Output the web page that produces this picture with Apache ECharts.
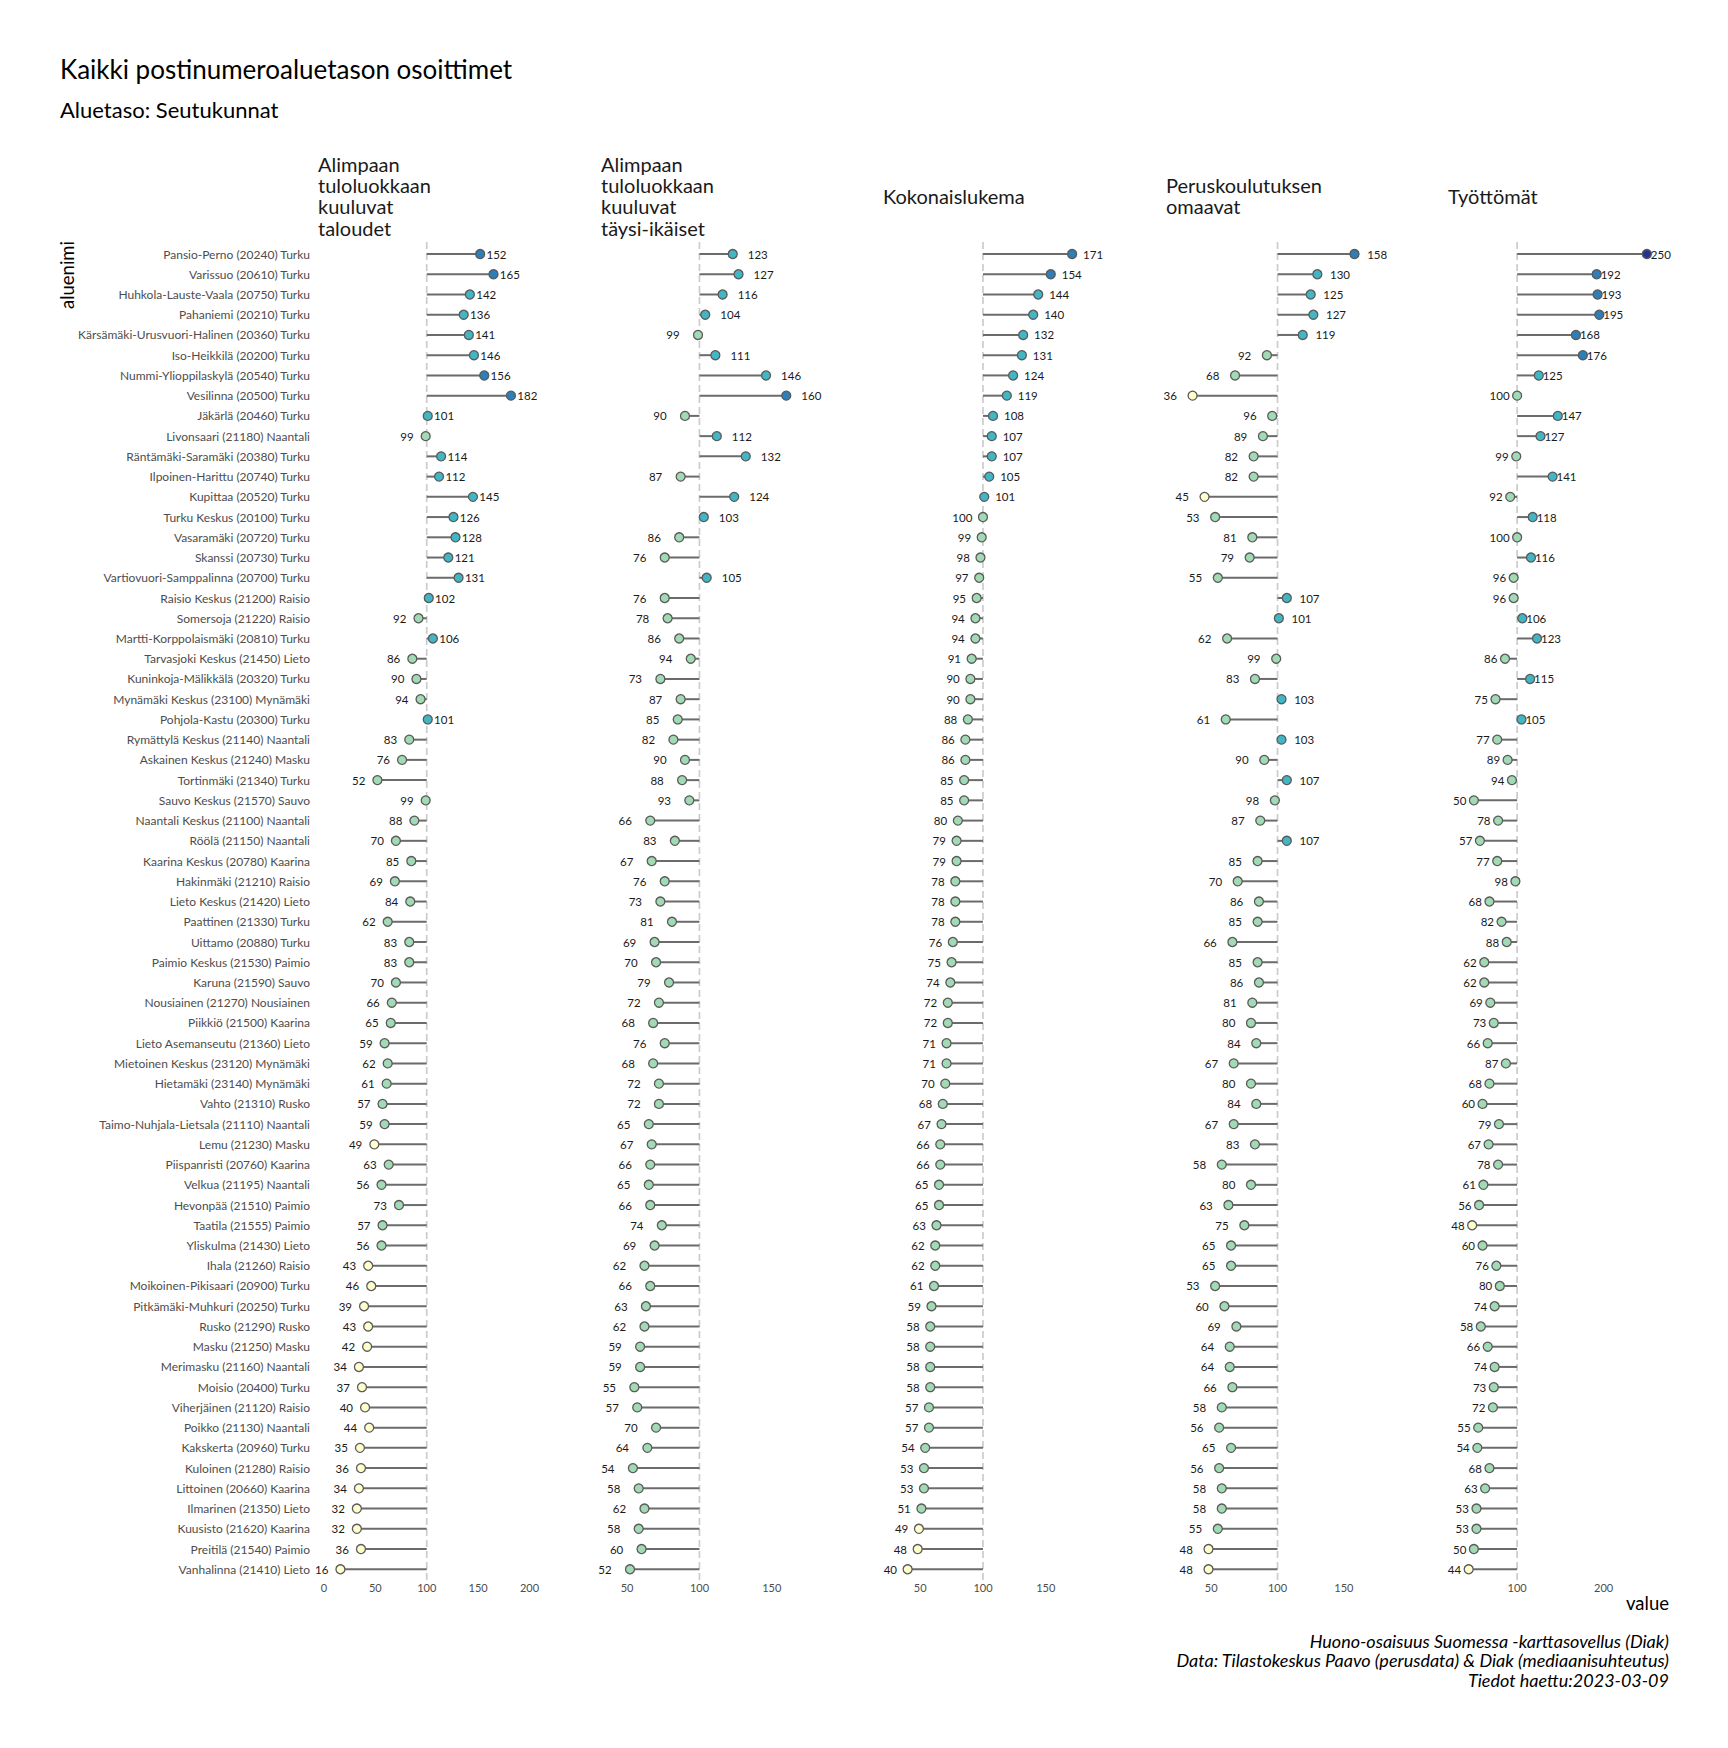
<!DOCTYPE html>
<html>
<head>
<meta charset="utf-8">
<script src="https://cdn.jsdelivr.net/npm/echarts@6/dist/echarts.min.js"></script>
<style>
html,body{margin:0;padding:0;background:#ffffff;}
#chart{width:1728px;height:1748px;}
</style>
</head>
<body>
<div id="chart"></div>
<script>
// ---------------- DATA ----------------
const chartTitle = "Kaikki postinumeroaluetason osoittimet";
const chartSubtitle = "Aluetaso: Seutukunnat";
const captionLines = [
  "Huono-osaisuus Suomessa -karttasovellus (Diak)",
  "Data: Tilastokeskus Paavo (perusdata) & Diak (mediaanisuhteutus)",
  "Tiedot haettu:2023-03-09"
];
const yAxisTitle = "aluenimi";
const xAxisTitle = "value";
const referenceValue = 100;

const areas = [
  "Pansio-Perno (20240) Turku","Varissuo (20610) Turku","Huhkola-Lauste-Vaala (20750) Turku","Pahaniemi (20210) Turku",
  "Kärsämäki-Urusvuori-Halinen (20360) Turku","Iso-Heikkilä (20200) Turku","Nummi-Ylioppilaskylä (20540) Turku","Vesilinna (20500) Turku",
  "Jäkärlä (20460) Turku","Livonsaari (21180) Naantali","Räntämäki-Saramäki (20380) Turku","Ilpoinen-Harittu (20740) Turku",
  "Kupittaa (20520) Turku","Turku Keskus (20100) Turku","Vasaramäki (20720) Turku","Skanssi (20730) Turku",
  "Vartiovuori-Samppalinna (20700) Turku","Raisio Keskus (21200) Raisio","Somersoja (21220) Raisio","Martti-Korppolaismäki (20810) Turku",
  "Tarvasjoki Keskus (21450) Lieto","Kuninkoja-Mälikkälä (20320) Turku","Mynämäki Keskus (23100) Mynämäki","Pohjola-Kastu (20300) Turku",
  "Rymättylä Keskus (21140) Naantali","Askainen Keskus (21240) Masku","Tortinmäki (21340) Turku","Sauvo Keskus (21570) Sauvo",
  "Naantali Keskus (21100) Naantali","Röölä (21150) Naantali","Kaarina Keskus (20780) Kaarina","Hakinmäki (21210) Raisio",
  "Lieto Keskus (21420) Lieto","Paattinen (21330) Turku","Uittamo (20880) Turku","Paimio Keskus (21530) Paimio",
  "Karuna (21590) Sauvo","Nousiainen (21270) Nousiainen","Piikkiö (21500) Kaarina","Lieto Asemanseutu (21360) Lieto",
  "Mietoinen Keskus (23120) Mynämäki","Hietamäki (23140) Mynämäki","Vahto (21310) Rusko","Taimo-Nuhjala-Lietsala (21110) Naantali",
  "Lemu (21230) Masku","Piispanristi (20760) Kaarina","Velkua (21195) Naantali","Hevonpää (21510) Paimio",
  "Taatila (21555) Paimio","Yliskulma (21430) Lieto","Ihala (21260) Raisio","Moikoinen-Pikisaari (20900) Turku",
  "Pitkämäki-Muhkuri (20250) Turku","Rusko (21290) Rusko","Masku (21250) Masku","Merimasku (21160) Naantali",
  "Moisio (20400) Turku","Viherjäinen (21120) Raisio","Poikko (21130) Naantali","Kakskerta (20960) Turku",
  "Kuloinen (21280) Raisio","Littoinen (20660) Kaarina","Ilmarinen (21350) Lieto","Kuusisto (21620) Kaarina",
  "Preitilä (21540) Paimio","Vanhalinna (21410) Lieto"
];

const panelTitles = [
  "Alimpaan\ntuloluokkaan\nkuuluvat\ntaloudet",
  "Alimpaan\ntuloluokkaan\nkuuluvat\ntäysi-ikäiset",
  "Kokonaislukema",
  "Peruskoulutuksen\nomaavat",
  "Työttömät"
];

const taloudet = [152,165,142,136,141,146,156,182,101,99,114,112,145,126,128,121,131,102,92,106,86,90,94,101,83,76,52,99,88,70,85,69,84,62,83,83,70,66,65,59,62,61,57,59,49,63,56,73,57,56,43,46,39,43,42,34,37,40,44,35,36,34,32,32,36,16];
const taysiIkaiset = [123,127,116,104,99,111,146,160,90,112,132,87,124,103,86,76,105,76,78,86,94,73,87,85,82,90,88,93,66,83,67,76,73,81,69,70,79,72,68,76,68,72,72,65,67,66,65,66,74,69,62,66,63,62,59,59,55,57,70,64,54,58,62,58,60,52];
const kokonaislukema = [171,154,144,140,132,131,124,119,108,107,107,105,101,100,99,98,97,95,94,94,91,90,90,88,86,86,85,85,80,79,79,78,78,78,76,75,74,72,72,71,71,70,68,67,66,66,65,65,63,62,62,61,59,58,58,58,58,57,57,54,53,53,51,49,48,40];
const peruskoulutus = [158,130,125,127,119,92,68,36,96,89,82,82,45,53,81,79,55,107,101,62,99,83,103,61,103,90,107,98,87,107,85,70,86,85,66,85,86,81,80,84,67,80,84,67,83,58,80,63,75,65,65,53,60,69,64,64,66,58,56,65,56,58,58,55,48,48];
const tyottomat = [250,192,193,195,168,176,125,100,147,127,99,141,92,118,100,116,96,96,106,123,86,115,75,105,77,89,94,50,78,57,77,98,68,82,88,62,62,69,73,66,87,68,60,79,67,78,61,56,48,60,76,80,74,58,66,74,73,72,55,54,68,63,53,53,50,44];

const panelValues = [taloudet, taysiIkaiset, kokonaislukema, peruskoulutus, tyottomat];
const tickLabels = [[0,50,100,150,200],[50,100,150],[50,100,150],[50,100,150],[100,200]];

// colour bins (YlGnBu)
const binBreaks = [50, 100, 150, 200];
const binColors = ["#ffffcc","#a1dab4","#41b6c4","#2c7fb8","#253494"];

// ---------------- LAYOUT / STYLE ----------------
const FONT = "Lato";
const panelLeft = [313, 596, 878, 1161, 1443];
const panelWidth = 226;
const gridTop = 243.9;
const gridHeight = 1335.5;
const xRange = [[-10.7, 209.3],[28.5, 184.7],[16.4, 196.4],[12.2, 182.5],[14.3, 275.6]];
const labelDist = [[1.2, 6.9],[9.9, 13.2],[5.8, 5.5],[7.5, 10.5],[-1.2, 2.4]]; // [right, left]

function binColor(v){
  if (v < binBreaks[0]) return binColors[0];
  if (v <= binBreaks[1]) return binColors[1];
  if (v < binBreaks[2]) return binColors[2];
  if (v < binBreaks[3]) return binColors[3];
  return binColors[4];
}

const grids = [], xAxes = [], yAxes = [], series = [];
const n = areas.length;

panelValues.forEach((vals, p) => {
  grids.push({left: panelLeft[p], top: gridTop, width: panelWidth, height: gridHeight, containLabel: false});
  xAxes.push({
    gridIndex: p, type: 'value', min: xRange[p][0], max: xRange[p][1],
    axisLine: {show: false}, axisTick: {show: false}, splitLine: {show: false},
    axisLabel: {customValues: tickLabels[p], fontFamily: FONT, fontSize: 11, color: '#4d4d4d', margin: 3}
  });
  yAxes.push({
    gridIndex: p, type: 'category', data: areas, inverse: true,
    axisLine: {show: false}, axisTick: {show: false}, splitLine: {show: false},
    axisLabel: {show: p === 0, fontFamily: FONT, fontSize: 12, color: '#4d4d4d', margin: 3}
  });
  // dashed reference line at 100
  series.push({
    type: 'custom', xAxisIndex: p, yAxisIndex: p, z: 1, silent: true,
    data: [[referenceValue, 0]],
    renderItem: (params, api) => {
      const a = api.coord([api.value(0), 0]);
      const b = api.coord([api.value(0), n - 1]);
      const band = api.size([0, 1])[1];
      return {type: 'line', shape: {x1: a[0], y1: a[1] - 0.6 * band, x2: b[0], y2: b[1] + 0.6 * band},
        style: {stroke: '#cccccc', lineWidth: 1.7, lineDash: [7, 4]}};
    }
  });
  // segments from 100 to value
  series.push({
    type: 'custom', xAxisIndex: p, yAxisIndex: p, z: 2, silent: true,
    data: vals.map((v, i) => [v, i]),
    renderItem: (params, api) => {
      const a = api.coord([referenceValue, api.value(1)]);
      const b = api.coord([api.value(0), api.value(1)]);
      return {type: 'line', shape: {x1: a[0], y1: a[1], x2: b[0], y2: b[1]},
        style: {stroke: '#6b6b6b', lineWidth: 2}};
    }
  });
  // points with labels
  series.push({
    type: 'scatter', xAxisIndex: p, yAxisIndex: p, z: 3, silent: true,
    symbol: 'circle', symbolSize: 9,
    itemStyle: {borderColor: '#5a5a5a', borderWidth: 1.3, opacity: 1},
    label: {show: true, fontFamily: FONT, fontSize: 11.5, color: '#1a1a1a',
      formatter: (prm) => String(prm.value[0])},
    data: vals.map((v, i) => ({
      value: [v, i],
      itemStyle: {color: binColor(v)},
      label: {position: v > referenceValue ? 'right' : 'left',
              distance: v > referenceValue ? labelDist[p][0] : labelDist[p][1]}
    }))
  });
});

function txt(o){
  return {type: 'text', silent: true, x: o.gx || 0, y: o.gy || 0, rotation: o.rotation || 0, style: {
    text: o.text, x: o.x, y: o.y, fill: o.fill || '#000000', fontFamily: FONT,
    fontSize: o.size, fontWeight: 'normal', fontStyle: o.style || 'normal',
    lineHeight: o.lh, align: o.align, verticalAlign: 'middle',
    textAlign: o.align, textVerticalAlign: 'middle'}};
}

const graphics = [];
panelTitles.forEach((t, p) => {
  graphics.push(txt({text: t, x: panelLeft[p] + 5, y: 195.7, fill: '#1a1a1a', size: 20, lh: 21.2, align: 'left'}));
});
graphics.push(txt({text: chartTitle, x: 60, y: 69, size: 26, lh: 30, align: 'left'}));
graphics.push(txt({text: chartSubtitle, x: 60, y: 109, size: 22, lh: 26, align: 'left'}));
graphics.push(txt({text: xAxisTitle, x: 1669, y: 1603, size: 18.5, lh: 22, align: 'right'}));
graphics.push(txt({text: yAxisTitle, x: 0, y: 0, gx: 67, gy: 241, rotation: Math.PI / 2, size: 18.5, lh: 22, align: 'right'}));
graphics.push(txt({text: captionLines.join('\n'), x: 1669, y: 1660, size: 18, lh: 19.5, align: 'right', style: 'italic'}));

const chart = echarts.init(document.getElementById('chart'), null, {renderer: 'svg', width: 1728, height: 1748});
chart.setOption({
  backgroundColor: '#ffffff',
  animation: false,
  textStyle: {fontFamily: FONT},
  grid: grids,
  xAxis: xAxes,
  yAxis: yAxes,
  series: series,
  graphic: graphics
});
</script>
</body>
</html>
